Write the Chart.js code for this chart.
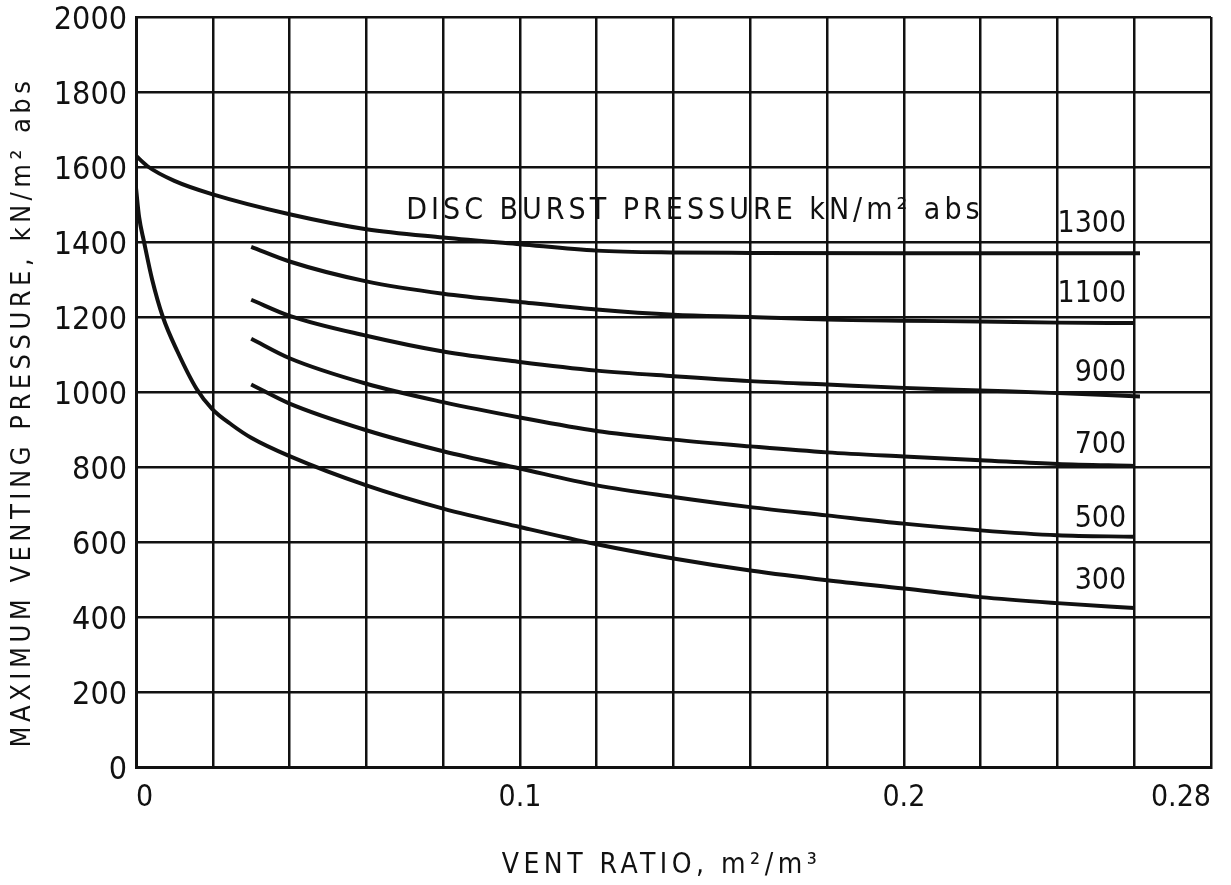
<!DOCTYPE html>
<html>
<head>
<meta charset="utf-8">
<title>Maximum venting pressure vs vent ratio</title>
<script src="https://cdn.jsdelivr.net/npm/chart.js@4.4.1/dist/chart.umd.min.js"></script>
<style>
  html, body { margin: 0; padding: 0; background: #fff; }
  #wrap { width: 1231px; height: 885px; }
</style>
</head>
<body>
<div id="wrap"><canvas id="chart"></canvas></div>
<script>
const FONT = '"DejaVu Sans Condensed", "Liberation Sans Narrow", "DejaVu Sans", sans-serif';
const INK = '#111';

// axes
const xGrid = [0, 0.02, 0.04, 0.06, 0.08, 0.1, 0.12, 0.14, 0.16, 0.18, 0.2, 0.22, 0.24, 0.26, 0.28];
const xTickValues = [0, 0.1, 0.2, 0.28];
const xTickLabels = ['0', '0.1', '0.2', '0.28'];
const yMin = 0, yMax = 2000, yStep = 200;

// disc burst pressure curves (kN/m2 abs) - vent ratio / max venting pressure
const curveNames = ['1300', '1100', '900', '700', '500', '300'];

const x1300 = [0, 0.003, 0.01, 0.02, 0.04, 0.06, 0.08, 0.1, 0.12, 0.14, 0.16, 0.2, 0.24, 0.2615];
const p1300 = [1630, 1602, 1563, 1527, 1474, 1434, 1412, 1394, 1377, 1372, 1371, 1370, 1370, 1370];

const x1100 = [0.03, 0.04, 0.06, 0.08, 0.1, 0.12, 0.14, 0.16, 0.18, 0.2, 0.22, 0.24, 0.26];
const p1100 = [1387, 1348, 1295, 1262, 1240, 1220, 1206, 1200, 1193, 1190, 1188, 1185, 1184];

const x900 = [0.03, 0.04, 0.06, 0.08, 0.1, 0.12, 0.14, 0.16, 0.18, 0.2, 0.22, 0.24, 0.2615];
const p900 = [1246, 1203, 1150, 1108, 1080, 1057, 1042, 1029, 1020, 1011, 1004, 997, 988];

const x700 = [0.03, 0.04, 0.06, 0.08, 0.1, 0.12, 0.14, 0.16, 0.18, 0.2, 0.22, 0.24, 0.26];
const p700 = [1142, 1090, 1022, 973, 932, 896, 873, 855, 839, 828, 818, 808, 803];

const x500 = [0.03, 0.04, 0.06, 0.08, 0.1, 0.12, 0.14, 0.16, 0.18, 0.2, 0.22, 0.24, 0.26];
const p500 = [1020, 969, 898, 842, 796, 751, 720, 693, 671, 649, 631, 618, 614];

const x300 = [0, 0.0008, 0.0021, 0.0042, 0.007, 0.0108, 0.0158, 0.0198, 0.025, 0.03, 0.04, 0.06, 0.08, 0.1, 0.12, 0.14, 0.16, 0.18, 0.2, 0.22, 0.24, 0.26];
const p300 = [1544, 1467, 1400, 1300, 1200, 1108, 1008, 955, 912, 878, 829, 751, 689, 640, 594, 556, 524, 498, 476, 453, 437, 424];

// where the curve names sit (data units)
const nameX = 0.2579;
const nameY = [1448, 1261, 1051, 859, 661, 496];
const legendTitle = 'DISC BURST PRESSURE kN/m² abs';
const legendAt = { x: 0.0704, y: 1482 };

const xTitle = 'VENT RATIO, m²/m³';
const yTitle = 'MAXIMUM VENTING PRESSURE, kN/m² abs';

const toPoints = (xs, ys) => xs.map((x, i) => ({ x: x, y: ys[i] }));
const series = [[x1300, p1300], [x1100, p1100], [x900, p900], [x700, p700], [x500, p500], [x300, p300]];

const datasets = series.map(([xs, ys], i) => ({
    label: curveNames[i],
    data: toPoints(xs, ys),
    borderColor: INK,
    borderWidth: 4,
    pointRadius: 0,
    fill: false,
    cubicInterpolationMode: 'monotone',
}));

const chartText = {
    id: 'chartText',
    afterDraw(chart) {
        const { ctx, chartArea, scales } = chart;
        const x = scales.x, y = scales.y;
        ctx.save();
        ctx.fillStyle = INK;

        // curve names
        ctx.letterSpacing = '0px';
        ctx.font = `30px ${FONT}`;
        ctx.textAlign = 'right';
        ctx.textBaseline = 'middle';
        curveNames.forEach((n, i) => {
            ctx.fillText(n, x.getPixelForValue(nameX), y.getPixelForValue(nameY[i]));
        });

        // legend heading
        ctx.letterSpacing = '4px';
        ctx.textAlign = 'left';
        ctx.font = `30px ${FONT}`;
        ctx.fillText(legendTitle, x.getPixelForValue(legendAt.x), y.getPixelForValue(legendAt.y));

        // axis titles
        ctx.font = `28px ${FONT}`;
        ctx.letterSpacing = '4.5px';
        ctx.textAlign = 'center';
        ctx.fillText(xTitle, (chartArea.left + chartArea.right) / 2 - 12, chart.height - 19);

        ctx.translate(23, (chartArea.top + chartArea.bottom) / 2 + 20);
        ctx.rotate(-Math.PI / 2);
        ctx.font = `27px ${FONT}`;
        ctx.fillText(yTitle, 0, 0);
        ctx.restore();
    },
};

const ctx = document.getElementById('chart').getContext('2d');
new Chart(ctx, {
    type: 'line',
    data: { datasets: datasets },
    options: {
        responsive: true,
        maintainAspectRatio: false,
        animation: false,
        layout: { padding: { top: 17, right: 20, left: 0, bottom: 0 } },
        plugins: {
            legend: { display: false },
            tooltip: { enabled: false },
        },
        scales: {
            x: {
                type: 'linear',
                min: 0,
                max: 0.28,
                afterBuildTicks: (scale) => {
                    scale.ticks = xGrid.map(v => ({ value: v }));
                },
                afterFit: (scale) => { scale.height = 118; },
                grid: { color: INK, lineWidth: 2.5, drawTicks: false },
                border: { color: INK, width: 3 },
                ticks: {
                    color: INK,
                    padding: 16,
                    align: 'inner',
                    maxRotation: 0,
                    autoSkip: false,
                    font: { family: FONT, size: 30, lineHeight: 1 },
                    callback: (value) => {
                        const i = xTickValues.findIndex(t => Math.abs(t - value) < 1e-9);
                        return i >= 0 ? xTickLabels[i] : '';
                    },
                },
            },
            y: {
                min: yMin,
                max: yMax,
                afterFit: (scale) => {
                    scale.width = 136;
                    scale.paddingTop = 0;
                },
                grid: { color: INK, lineWidth: 2.5, drawTicks: false },
                border: { color: INK, width: 3 },
                ticks: {
                    stepSize: yStep,
                    color: INK,
                    padding: 9,
                    labelOffset: 4,
                    font: { family: FONT, size: 32, lineHeight: 0.5 },
                    callback: (value) => String(value),
                },
            },
        },
    },
    plugins: [chartText],
});
</script>
</body>
</html>
